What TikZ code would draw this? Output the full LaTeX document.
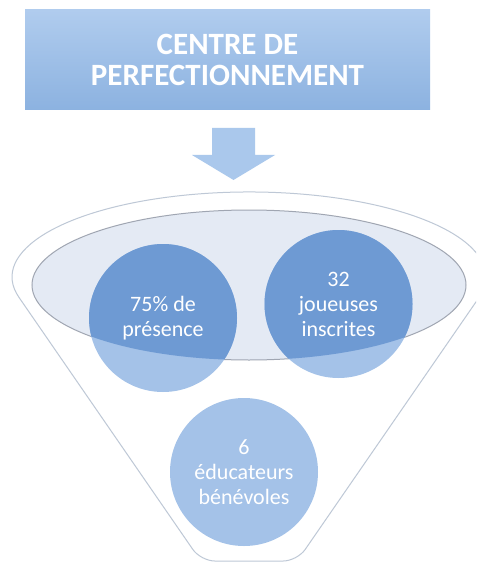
\documentclass[tikz,border=0pt]{standalone}
\usepackage{fontspec}
\setmainfont{Carlito}

\definecolor{boxtop}{RGB}{176,204,238}
\definecolor{boxbot}{RGB}{140,178,224}
\definecolor{arrowblue}{RGB}{170,200,236}
\definecolor{rimline}{RGB}{190,200,214}
\definecolor{mouthfill}{RGB}{228,234,244}
\definecolor{mouthline}{RGB}{160,166,178}
\definecolor{balllight}{RGB}{164,194,232}
\definecolor{balldark}{RGB}{110,154,211}

\begin{document}
\begin{tikzpicture}[x=1pt, y=-1pt,
    titlebox/.style={rectangle, minimum width=405pt, minimum height=100pt, inner sep=0pt,
        top color=boxtop, bottom color=boxbot, text=white, align=center,
        font=\bfseries\fontsize{31}{31}\selectfont},
    ball/.style={circle, minimum size=148pt, inner sep=0pt, fill=balllight, text=white,
        align=center, font=\fontsize{22}{25}\selectfont,
        path picture={\fill[balldark] (mouth) ellipse[x radius=217pt, y radius=75pt];}},
    rim/.style={draw=rimline, line width=1pt},
]

    \useasboundingbox (0,0) rectangle (476,564);
    \clip (0,0) rectangle (476,564);
    \fill[white] (0,0) rectangle (476,564);

    \node[titlebox] (title) at (227.5,60) {CENTRE DE\\PERFECTIONNEMENT};

    \fill[arrowblue] (212,128) -- (255,128) -- (255,155) -- (275,155) -- (233.5,180)
        -- (192,155) -- (212,155) -- cycle;

    % funnel rim
    \coordinate (rimL) at (19,297.4);
    \coordinate (tipR) at (297.2,561);
    \coordinate (tipL) at (200.8,561);
    \draw[rim] (rimL) arc[start angle=166.1, end angle=373.9, x radius=237, y radius=85]
        [rounded corners=14pt] -- (tipR) -- (tipL) -- (rimL);

    % mouth
    \coordinate (mouth) at (249,285);
    \filldraw[fill=mouthfill, draw=mouthline, line width=1pt] (mouth) ellipse[x radius=217, y radius=75];

    \node[ball] (presence) at (163,318) {75\% de\\présence};
    \node[ball] (joueuses) at (338.5,304) {32\\joueuses\\inscrites};
    \node[ball] (educateurs) at (244,472) {6\\éducateurs\\bénévoles};

\end{tikzpicture}
\end{document}
